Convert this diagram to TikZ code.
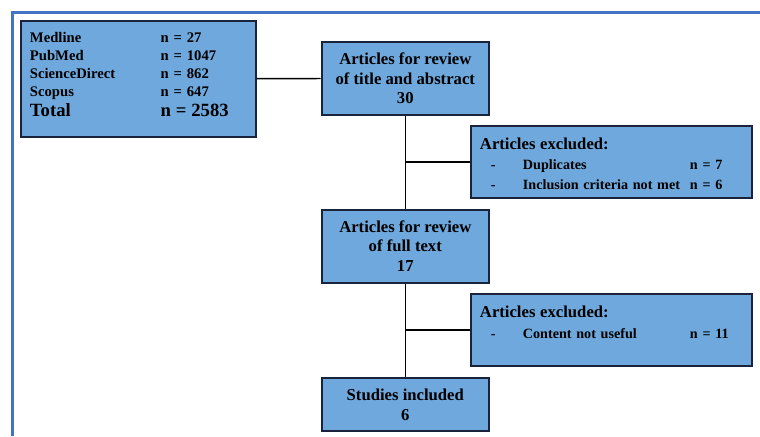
\documentclass[tikz,border=0pt]{standalone}
\usepackage{fontspec}
\setmainfont{Liberation Serif}
\setlength{\tabcolsep}{0pt}
\newcommand{\bigtext}{\fontsize{14}{16}\selectfont}
\newcommand{\headtext}{\fontsize{12.5}{15}\selectfont}
\definecolor{boxfill}{RGB}{111,168,220}
\definecolor{boxline}{RGB}{25,35,60}
\definecolor{frameblue}{RGB}{68,114,196}
\tikzset{
  box/.style={draw=boxline, line width=1.5pt, fill=boxfill},
  midbox/.style={box, align=center, minimum width=125.5pt, minimum height=54.75pt,
    inner sep=0pt, font=\bfseries\fontsize{12.5}{14.6}\selectfont},
  exclbox/.style={box, inner xsep=6.75pt, inner ysep=0pt, text width=197pt,
    text height=17.6pt, text depth=36.6pt, font=\bfseries\fontsize{10.6}{14.5}\selectfont},
  link/.style={line width=1.1pt}
}
\begin{document}
\begin{tikzpicture}[x=0.75pt, y=-0.75pt]
    \useasboundingbox (0,0) rectangle (760,436);
    % Frame
    \draw[frameblue, line width=2.25pt] (12,436) -- (12,12) -- (760,12);
    % Databases
    \node[box, inner xsep=6.75pt, inner ysep=0pt, text width=162.5pt, text height=16.5pt,
      text depth=70.5pt, font=\bfseries\fontsize{11}{13.5}\selectfont] (src) at (138.3,78.7)
      {\begin{tabular}[t]{@{}p{98pt}l@{}}
        Medline & n = 27\\
        PubMed & n = 1047\\
        ScienceDirect & n = 862\\
        Scopus & n = 647\\[1.3pt]
        \bigtext Total & \bigtext n = 2583
      \end{tabular}};
    % Screening
    \node[midbox] (title) at (405.3,78.5) {Articles for review\\of title and abstract\\30};
    \node[exclbox] (excl1) at (611.3,161.8)
      {\begin{tabular}[t]{@{\hspace{8.25pt}}p{24pt}p{125.25pt}l@{}}
        \multicolumn{3}{@{}l@{}}{\headtext Articles excluded:}\\[1pt]
        - & Duplicates & n = 7\\
        - & Inclusion criteria not met & n = 6
      \end{tabular}};
    % Eligibility
    \node[midbox] (full) at (405.3,246) {Articles for review\\of full text\\17};
    \node[exclbox] (excl2) at (611.3,330)
      {\begin{tabular}[t]{@{\hspace{8.25pt}}p{24pt}p{125.25pt}l@{}}
        \multicolumn{3}{@{}l@{}}{\headtext Articles excluded:}\\[1pt]
        - & Content not useful & n = 11
      \end{tabular}};
    % Included
    \node[midbox, minimum height=39.75pt] (incl) at (405.3,404.7) {Studies included\\6};
    % Links
    \draw[link] (src.east) -- (title.west);
    \draw[link] (title.south) -- (full.north);
    \draw[link] (full.south) -- (incl.north);
    \draw[link] (excl1.west) -- (excl1.west -| title.south);
    \draw[link] (excl2.west) -- (excl2.west -| full.south);
\end{tikzpicture}
\end{document}
